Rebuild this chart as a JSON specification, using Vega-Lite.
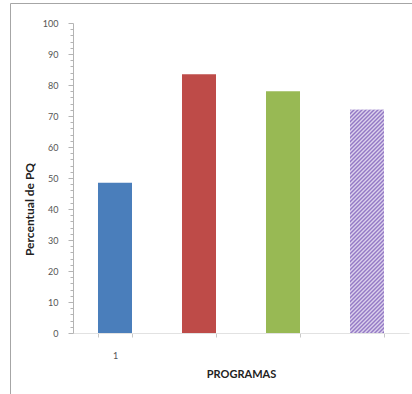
{
  "$schema": "https://vega.github.io/schema/vega-lite/v6.json",
  "width": 404,
  "height": 393,
  "autosize": {"type": "none"},
  "padding": {"left": 10, "top": 3, "right": 0, "bottom": 0},
  "background": "white",
  "config": {
    "view": {"stroke": "#a6a6a6", "strokeWidth": 1},
    "font": "Lato"
  },
  "data": {
    "values": [
      {"programa": "1", "percentual": 48.5},
      {"programa": "2", "percentual": 83.5},
      {"programa": "3", "percentual": 78},
      {"programa": "4", "percentual": 72}
    ]
  },
  "encoding": {
    "x": {
      "field": "programa",
      "type": "nominal",
      "scale": {"domain": ["1", "2", "3", "4"], "range": [63, 399], "paddingInner": 0.5952, "paddingOuter": 0.2976},
      "axis": {
        "orient": "bottom",
        "offset": -63,
        "title": "PROGRAMAS",
        "titleFont": "Lato",
        "titleFontWeight": "bold",
        "titleFontSize": 11,
        "titleColor": "#222222",
        "titlePadding": 8,
        "labelExpr": "datum.value == '1' ? '1' : ''",
        "labelAngle": 0,
        "labelFont": "Lato",
        "labelFontSize": 9,
        "labelColor": "#555555",
        "labelPadding": 14,
        "tickBand": "extent",
        "tickSize": 4,
        "tickColor": "#c8c8c8",
        "domainColor": "#e2e2e2"
      }
    },
    "y": {
      "field": "percentual",
      "type": "quantitative",
      "scale": {"domain": [0, 100], "range": [330, 20], "nice": false},
      "axis": {
        "orient": "left",
        "offset": -63,
        "values": [0,2,4,6,8,10,12,14,16,18,20,22,24,26,28,30,32,34,36,38,40,42,44,46,48,50,52,54,56,58,60,62,64,66,68,70,72,74,76,78,80,82,84,86,88,90,92,94,96,98,100],
        "labelExpr": "datum.value % 10 == 0 ? datum.label : ''",
        "labelOverlap": false,
        "labelFlush": false,
        "labelFont": "Lato",
        "labelFontSize": 9,
        "labelColor": "#555555",
        "labelPadding": 10,
        "tickSize": {"condition": {"test": "datum.value % 10 == 0", "value": 5}, "value": 3},
        "tickColor": "#b4b4b4",
        "domainColor": "#b4b4b4",
        "grid": false,
        "title": "Percentual de PQ",
        "titleFont": "Lato",
        "titleFontWeight": "bold",
        "titleFontSize": 12,
        "titleColor": "#222222",
        "titlePadding": 6,
        "titleY": 206
      }
    }
  },
  "layer": [
    {
      "mark": {"type": "bar"},
      "encoding": {
        "color": {
          "field": "programa",
          "type": "nominal",
          "scale": {"domain": ["1", "2", "3", "4"], "range": ["#4A7EBB", "#BE4B48", "#98B954", "#B3A2D6"]},
          "legend": null
        }
      }
    },
    {
      "transform": [{"filter": "datum.programa == '4'"}],
      "mark": {
        "type": "bar",
        "fill": {
          "gradient": "linear",
          "x1": 0, "y1": 0, "x2": 0.1707, "y2": 1.1207,
          "stops": [
            {"offset": 0, "color": "#8B6EC0"},
            {"offset": 0.0078, "color": "#E4DCF1"},
            {"offset": 0.0156, "color": "#8B6EC0"},
            {"offset": 0.0234, "color": "#E4DCF1"},
            {"offset": 0.0313, "color": "#8B6EC0"},
            {"offset": 0.0391, "color": "#E4DCF1"},
            {"offset": 0.0469, "color": "#8B6EC0"},
            {"offset": 0.0547, "color": "#E4DCF1"},
            {"offset": 0.0625, "color": "#8B6EC0"},
            {"offset": 0.0703, "color": "#E4DCF1"},
            {"offset": 0.0781, "color": "#8B6EC0"},
            {"offset": 0.0859, "color": "#E4DCF1"},
            {"offset": 0.0938, "color": "#8B6EC0"},
            {"offset": 0.1016, "color": "#E4DCF1"},
            {"offset": 0.1094, "color": "#8B6EC0"},
            {"offset": 0.1172, "color": "#E4DCF1"},
            {"offset": 0.125, "color": "#8B6EC0"},
            {"offset": 0.1328, "color": "#E4DCF1"},
            {"offset": 0.1406, "color": "#8B6EC0"},
            {"offset": 0.1484, "color": "#E4DCF1"},
            {"offset": 0.1563, "color": "#8B6EC0"},
            {"offset": 0.1641, "color": "#E4DCF1"},
            {"offset": 0.1719, "color": "#8B6EC0"},
            {"offset": 0.1797, "color": "#E4DCF1"},
            {"offset": 0.1875, "color": "#8B6EC0"},
            {"offset": 0.1953, "color": "#E4DCF1"},
            {"offset": 0.2031, "color": "#8B6EC0"},
            {"offset": 0.2109, "color": "#E4DCF1"},
            {"offset": 0.2188, "color": "#8B6EC0"},
            {"offset": 0.2266, "color": "#E4DCF1"},
            {"offset": 0.2344, "color": "#8B6EC0"},
            {"offset": 0.2422, "color": "#E4DCF1"},
            {"offset": 0.25, "color": "#8B6EC0"},
            {"offset": 0.2578, "color": "#E4DCF1"},
            {"offset": 0.2656, "color": "#8B6EC0"},
            {"offset": 0.2734, "color": "#E4DCF1"},
            {"offset": 0.2813, "color": "#8B6EC0"},
            {"offset": 0.2891, "color": "#E4DCF1"},
            {"offset": 0.2969, "color": "#8B6EC0"},
            {"offset": 0.3047, "color": "#E4DCF1"},
            {"offset": 0.3125, "color": "#8B6EC0"},
            {"offset": 0.3203, "color": "#E4DCF1"},
            {"offset": 0.3281, "color": "#8B6EC0"},
            {"offset": 0.3359, "color": "#E4DCF1"},
            {"offset": 0.3438, "color": "#8B6EC0"},
            {"offset": 0.3516, "color": "#E4DCF1"},
            {"offset": 0.3594, "color": "#8B6EC0"},
            {"offset": 0.3672, "color": "#E4DCF1"},
            {"offset": 0.375, "color": "#8B6EC0"},
            {"offset": 0.3828, "color": "#E4DCF1"},
            {"offset": 0.3906, "color": "#8B6EC0"},
            {"offset": 0.3984, "color": "#E4DCF1"},
            {"offset": 0.4063, "color": "#8B6EC0"},
            {"offset": 0.4141, "color": "#E4DCF1"},
            {"offset": 0.4219, "color": "#8B6EC0"},
            {"offset": 0.4297, "color": "#E4DCF1"},
            {"offset": 0.4375, "color": "#8B6EC0"},
            {"offset": 0.4453, "color": "#E4DCF1"},
            {"offset": 0.4531, "color": "#8B6EC0"},
            {"offset": 0.4609, "color": "#E4DCF1"},
            {"offset": 0.4688, "color": "#8B6EC0"},
            {"offset": 0.4766, "color": "#E4DCF1"},
            {"offset": 0.4844, "color": "#8B6EC0"},
            {"offset": 0.4922, "color": "#E4DCF1"},
            {"offset": 0.5, "color": "#8B6EC0"},
            {"offset": 0.5078, "color": "#E4DCF1"},
            {"offset": 0.5156, "color": "#8B6EC0"},
            {"offset": 0.5234, "color": "#E4DCF1"},
            {"offset": 0.5313, "color": "#8B6EC0"},
            {"offset": 0.5391, "color": "#E4DCF1"},
            {"offset": 0.5469, "color": "#8B6EC0"},
            {"offset": 0.5547, "color": "#E4DCF1"},
            {"offset": 0.5625, "color": "#8B6EC0"},
            {"offset": 0.5703, "color": "#E4DCF1"},
            {"offset": 0.5781, "color": "#8B6EC0"},
            {"offset": 0.5859, "color": "#E4DCF1"},
            {"offset": 0.5938, "color": "#8B6EC0"},
            {"offset": 0.6016, "color": "#E4DCF1"},
            {"offset": 0.6094, "color": "#8B6EC0"},
            {"offset": 0.6172, "color": "#E4DCF1"},
            {"offset": 0.625, "color": "#8B6EC0"},
            {"offset": 0.6328, "color": "#E4DCF1"},
            {"offset": 0.6406, "color": "#8B6EC0"},
            {"offset": 0.6484, "color": "#E4DCF1"},
            {"offset": 0.6563, "color": "#8B6EC0"},
            {"offset": 0.6641, "color": "#E4DCF1"},
            {"offset": 0.6719, "color": "#8B6EC0"},
            {"offset": 0.6797, "color": "#E4DCF1"},
            {"offset": 0.6875, "color": "#8B6EC0"},
            {"offset": 0.6953, "color": "#E4DCF1"},
            {"offset": 0.7031, "color": "#8B6EC0"},
            {"offset": 0.7109, "color": "#E4DCF1"},
            {"offset": 0.7188, "color": "#8B6EC0"},
            {"offset": 0.7266, "color": "#E4DCF1"},
            {"offset": 0.7344, "color": "#8B6EC0"},
            {"offset": 0.7422, "color": "#E4DCF1"},
            {"offset": 0.75, "color": "#8B6EC0"},
            {"offset": 0.7578, "color": "#E4DCF1"},
            {"offset": 0.7656, "color": "#8B6EC0"},
            {"offset": 0.7734, "color": "#E4DCF1"},
            {"offset": 0.7813, "color": "#8B6EC0"},
            {"offset": 0.7891, "color": "#E4DCF1"},
            {"offset": 0.7969, "color": "#8B6EC0"},
            {"offset": 0.8047, "color": "#E4DCF1"},
            {"offset": 0.8125, "color": "#8B6EC0"},
            {"offset": 0.8203, "color": "#E4DCF1"},
            {"offset": 0.8281, "color": "#8B6EC0"},
            {"offset": 0.8359, "color": "#E4DCF1"},
            {"offset": 0.8438, "color": "#8B6EC0"},
            {"offset": 0.8516, "color": "#E4DCF1"},
            {"offset": 0.8594, "color": "#8B6EC0"},
            {"offset": 0.8672, "color": "#E4DCF1"},
            {"offset": 0.875, "color": "#8B6EC0"},
            {"offset": 0.8828, "color": "#E4DCF1"},
            {"offset": 0.8906, "color": "#8B6EC0"},
            {"offset": 0.8984, "color": "#E4DCF1"},
            {"offset": 0.9063, "color": "#8B6EC0"},
            {"offset": 0.9141, "color": "#E4DCF1"},
            {"offset": 0.9219, "color": "#8B6EC0"},
            {"offset": 0.9297, "color": "#E4DCF1"},
            {"offset": 0.9375, "color": "#8B6EC0"},
            {"offset": 0.9453, "color": "#E4DCF1"},
            {"offset": 0.9531, "color": "#8B6EC0"},
            {"offset": 0.9609, "color": "#E4DCF1"},
            {"offset": 0.9688, "color": "#8B6EC0"},
            {"offset": 0.9766, "color": "#E4DCF1"},
            {"offset": 0.9844, "color": "#8B6EC0"},
            {"offset": 0.9922, "color": "#E4DCF1"},
            {"offset": 1, "color": "#8B6EC0"}
          ]
        }
      }
    }
  ]
}
